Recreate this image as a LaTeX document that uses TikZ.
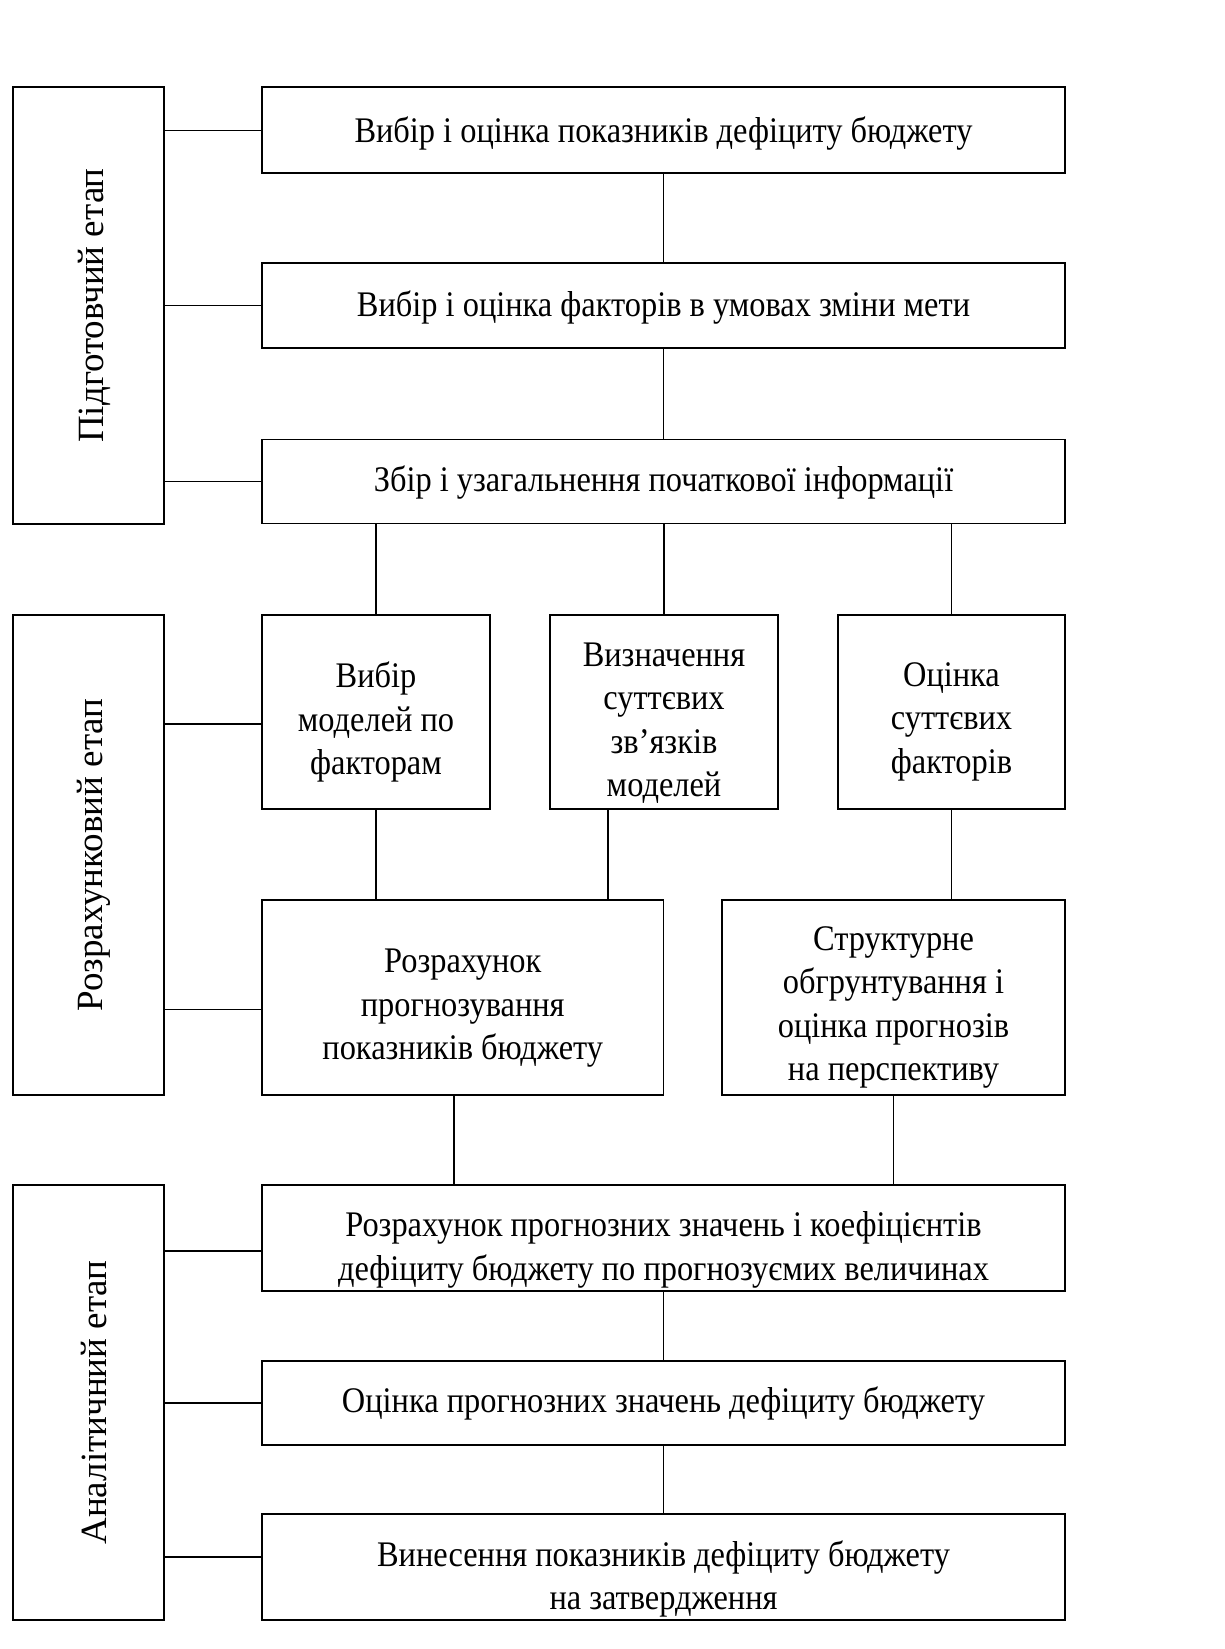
\documentclass[tikz,border=0pt]{standalone}
\usepackage{fontspec}
\setmainfont{Liberation Serif}
\newfontfamily\narrowserif{Liberation Serif}[FakeStretch=0.9]
\usetikzlibrary{calc}
\begin{document}
\begin{tikzpicture}[x=1pt,y=-1pt,
  box/.style={draw, line width=1.8pt, inner sep=0pt},
  txt/.style={align=center, inner sep=0pt,
    font=\narrowserif\fontsize{36}{43.5}\selectfont},
  stagetxt/.style={rotate=90, inner sep=0pt,
    font=\fontsize{37}{43}\selectfont},
  link/.style={line width=1.5pt}]
\useasboundingbox[fill=white] (0,0) rectangle (1224,1649);

% stage columns
\node[box, minimum width=151pt, minimum height=437pt] (L1) at (88.3,305.5) {};
\node[stagetxt] (L1t) at ([xshift=6pt]L1.center) {Підготовчий етап};
\node[box, minimum width=151pt, minimum height=480pt] (L2) at (88.3,855) {};
\node[stagetxt] (L2t) at ([xshift=6pt]L2.center) {Розрахунковий етап};
\node[box, minimum width=151pt, minimum height=435pt] (L3) at (88.3,1402.5) {};
\node[stagetxt] (L3t) at ([xshift=6pt]L3.center) {Аналітичний етап};

% preparatory stage
\node[box, minimum width=803pt, minimum height=86pt] (B1) at (663.5,130.3) {};
\node[txt] (B1t) at ([yshift=-3pt]B1.center) {Вибір і оцінка показників дефіциту бюджету};
\node[box, minimum width=803pt, minimum height=85pt] (B2) at (663.5,305.5) {};
\node[txt] (B2t) at ([yshift=-2pt]B2.center) {Вибір і оцінка факторів в умовах зміни мети};
\node[box, minimum width=803pt, minimum height=84pt] (B3) at (663.5,481.5) {};
\node[txt] (B3t) at ([yshift=-1pt]B3.center) {Збір і узагальнення початкової інформації};

% calculation stage
\node[box, minimum width=228pt, minimum height=194pt] (M1) at (376,712) {};
\node[txt] (M1t) at ([yshift=-10pt]M1.center) {Вибір\\моделей по\\факторам};
\node[box, minimum width=228pt, minimum height=194pt] (M2) at (664,712) {};
\node[txt] (M2t) at ([yshift=-11pt]M2.center) {Визначення\\суттєвих\\зв’язків\\моделей};
\node[box, minimum width=227pt, minimum height=194pt] (M3) at (951.5,712) {};
\node[txt] (M3t) at ([yshift=-9.5pt]M3.center) {Оцінка\\суттєвих\\факторів};
\node[box, minimum width=401.5pt, minimum height=195pt] (R1) at (462.75,997.5) {};
\node[txt] (R1t) at ([yshift=-11pt]R1.center) {Розрахунок\\прогнозування\\показників бюджету};
\node[box, minimum width=343pt, minimum height=195pt] (R2) at (893.5,997.5) {};
\node[txt] (R2t) at ([yshift=-10pt]R2.center) {Структурне\\обгрунтування і\\оцінка прогнозів\\на перспективу};

% analytical stage
\node[box, minimum width=803pt, minimum height=106pt] (A1) at (663.5,1238) {};
\node[txt] (A1t) at ([yshift=-12pt]A1.center) {Розрахунок прогнозних значень і коефіцієнтів\\дефіциту бюджету по прогнозуємих величинах};
\node[box, minimum width=803pt, minimum height=84pt] (A2) at (663.5,1403) {};
\node[txt] (A2t) at (A2.center) {Оцінка прогнозних значень дефіциту бюджету};
\node[box, minimum width=803pt, minimum height=106pt] (A3) at (663.5,1567) {};
\node[txt] (A3t) at ([yshift=-12pt]A3.center) {Винесення показників дефіциту бюджету\\на затвердження};

% stage stubs
\draw[link] (L1.east |- B1.west) -- (B1.west);
\draw[link] (L1.east |- B2.west) -- (B2.west);
\draw[link] (L1.east |- B3.west) -- (B3.west);
\draw[link] ([yshift=-12pt]L2.east |- M1.west) -- ([yshift=-12pt]M1.west);
\draw[link] ([yshift=-12pt]L2.east |- R1.west) -- ([yshift=-12pt]R1.west);
\draw[link] ([yshift=-13pt]L3.east |- A1.west) -- ([yshift=-13pt]A1.west);
\draw[link] (L3.east |- A2.west) -- (A2.west);
\draw[link] ([yshift=10pt]L3.east |- A3.west) -- ([yshift=10pt]A3.west);

% flow connectors
\draw[link] (B1.south) -- (B2.north);
\draw[link] (B2.south) -- (B3.north);
\draw[link] (M1.north |- B3.south) -- (M1.north);
\draw[link] (M2.north |- B3.south) -- (M2.north);
\draw[link] (M3.north |- B3.south) -- (M3.north);
\draw[link] (M1.south) -- (M1.south |- R1.north);
\draw[link] ([xshift=-56pt]M2.south) -- ([xshift=-56pt]M2.south |- R1.north);
\draw[link] (M3.south) -- (M3.south |- R2.north);
\draw[link] ([xshift=-9pt]R1.south) -- ([xshift=-9pt]R1.south |- A1.north);
\draw[link] (R2.south) -- (R2.south |- A1.north);
\draw[link] (A1.south) -- (A2.north);
\draw[link] (A2.south) -- (A3.north);
\end{tikzpicture}
\end{document}
